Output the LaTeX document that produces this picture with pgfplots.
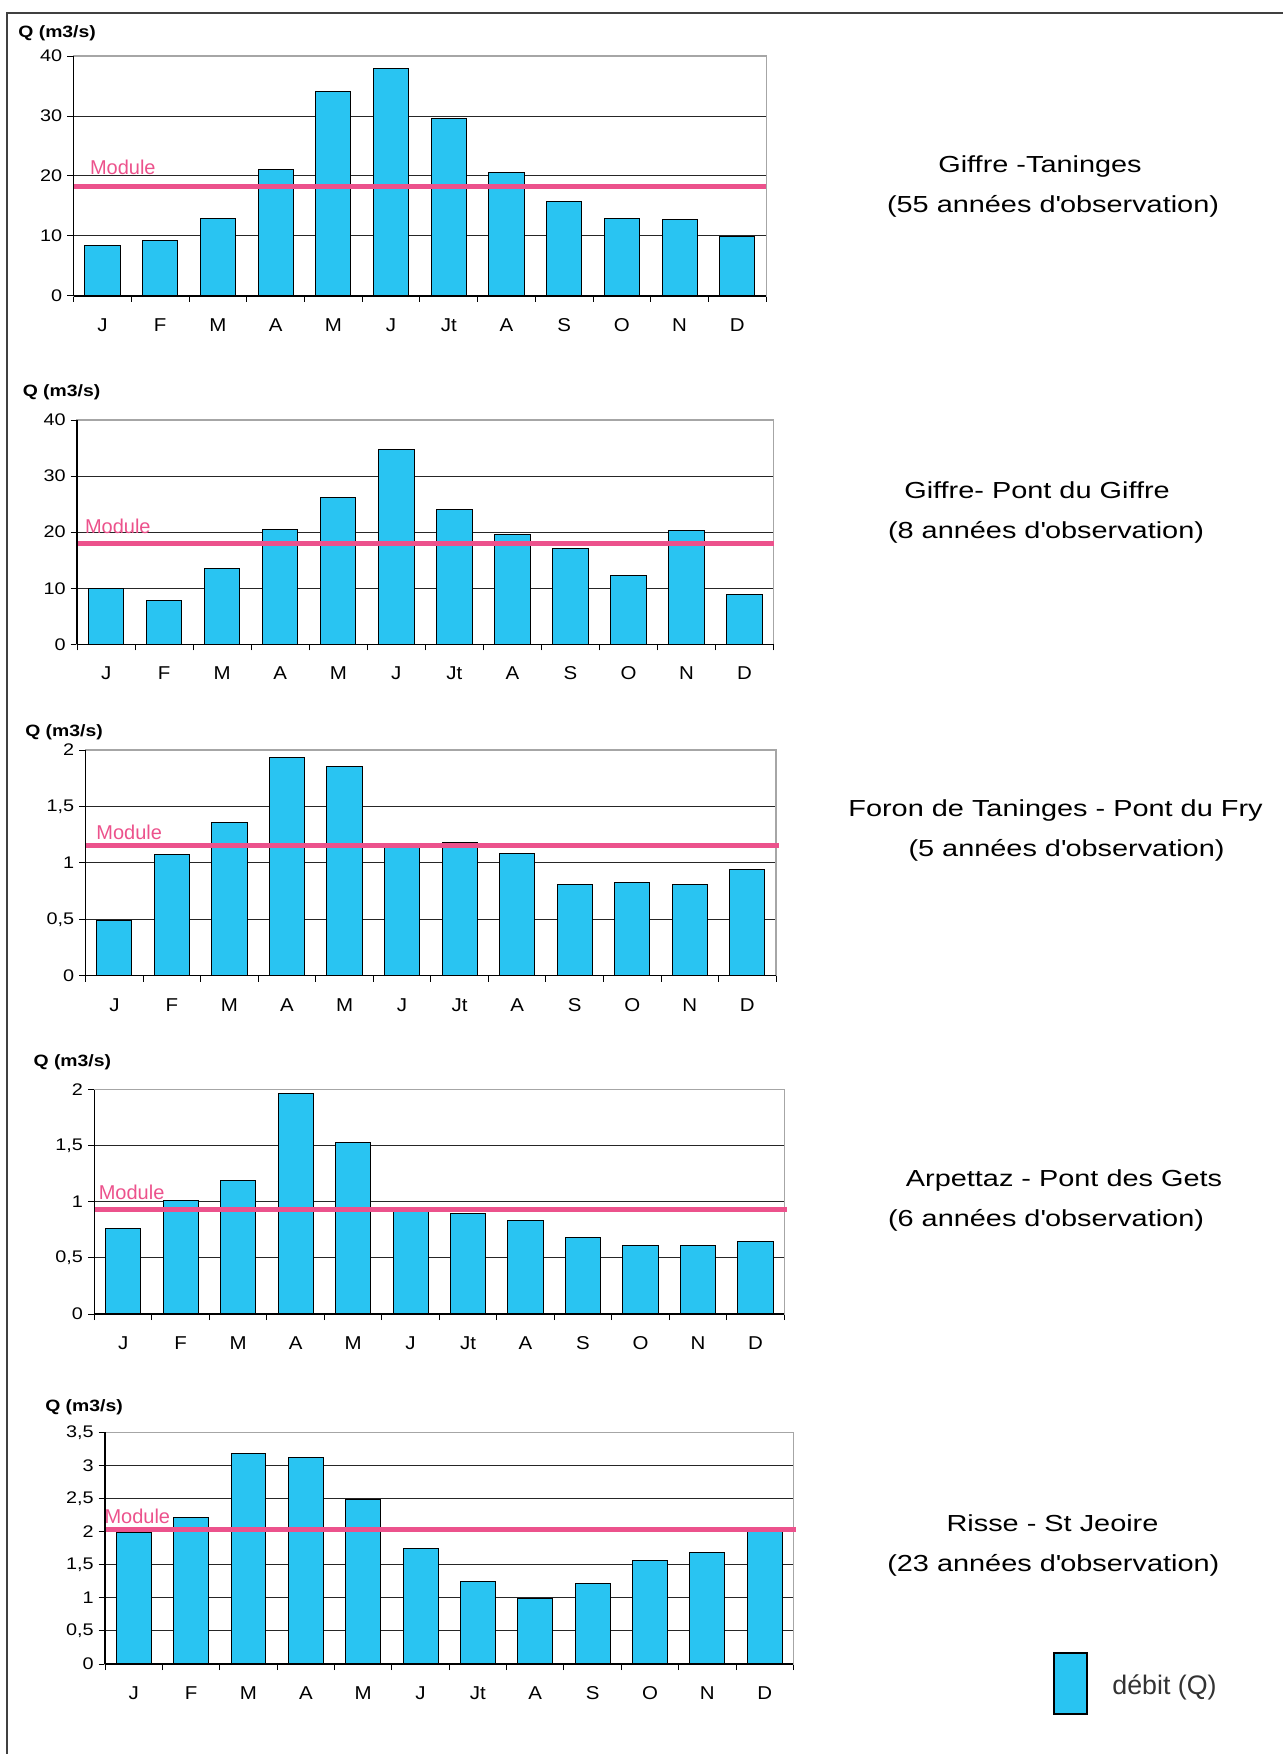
\documentclass[border=0pt]{standalone}
\usepackage{pgfplots}
\pgfplotsset{compat=1.18}
\usepackage{fontspec}
\setmainfont{Liberation Sans}
\newfontfamily\widefont[FakeStretch=1.245]{Liberation Sans}
\newfontfamily\tickfam[FakeStretch=1.18]{Liberation Sans}
\newfontfamily\monthfam[FakeStretch=1.1]{Liberation Sans}
\definecolor{barcyan}{RGB}{41,196,242}
\definecolor{modpink}{RGB}{236,82,140}
\newcommand\tickfont{\tickfam\fontsize{8.4pt}{10pt}\selectfont}
\newcommand\monthfont{\monthfam\fontsize{9.3pt}{11pt}\selectfont}
\newcommand\qfont{\tickfam\fontsize{8.2pt}{10pt}\selectfont\bfseries}
\newcommand\modfont{\fontsize{10pt}{12pt}\selectfont}
\newcommand\sitefont{\widefont\fontsize{11.6pt}{13pt}\selectfont}

\tikzset{modlabel/.style={anchor=base west, inner sep=0pt, font=\modfont, text=modpink}}

\pgfplotsset{
  panel/.style={
    scale only axis, anchor=south west,
    xmin=0.5, xmax=12.5, ymin=0,
    xtick={1,...,12}, xticklabels={J,F,M,A,M,J,Jt,A,S,O,N,D},
    minor xtick={0.5,1.5,...,12.5},
    tick pos=left, tick align=outside,
    major x tick style={draw=none},
    major tick length=3.2pt, minor tick length=3pt,
    tick style={black, line width=0.5pt},
    ymajorgrids, grid style={black!85, line width=0.5pt},
    axis line style={gray!70, line width=0.7pt},
    /pgf/number format/use comma,
    /pgf/number format/assume math mode=true,
    yticklabel style={font=\tickfont, anchor=east, inner sep=0pt, xshift=-2.3pt},
    xticklabel style={font=\monthfont, anchor=center, inner sep=0pt, yshift=-11.3pt},
    clip=false,
  },
  bars/.style={ybar, bar width=0.61, bar shift=0pt, fill=barcyan, draw=black, line width=0.5pt},
  modline/.style={modpink, line width=2.5pt, forget plot},
}

\begin{document}
\begin{tikzpicture}
\useasboundingbox (0,0) rectangle (641.5pt,-877pt);
\draw[black!75, line width=1pt] (3.65pt,-877pt) -- (3.65pt,-6.35pt) -- (641.5pt,-6.35pt);

% Panel 1
\begin{axis}[panel, at={(36.8pt,-148pt)}, width=346.3pt, height=120pt, ymax=40, ytick={0,10,...,40}]
\addplot[bars] coordinates {(1,8.4) (2,9.2) (3,12.9) (4,21.1) (5,34.1) (6,38.0) (7,29.6) (8,20.6) (9,15.7) (10,12.9) (11,12.7) (12,9.9)};
\addplot[modline] coordinates {(0.5,18.3) (12.5,18.3)};
\node[modlabel, xshift=8pt] at (axis cs:0.5,20.17) {Module};
\draw[black, line width=0.7pt] (rel axis cs:0,0) -- (rel axis cs:0,1);
\draw[black, line width=0.7pt] (rel axis cs:0,0) -- (rel axis cs:1,0);
\end{axis}

% Panel 2
\begin{axis}[panel, at={(38.55pt,-322.15pt)}, width=348.25pt, height=112.15pt, ymax=40, ytick={0,10,...,40}]
\addplot[bars] coordinates {(1,9.9) (2,7.8) (3,13.6) (4,20.5) (5,26.2) (6,34.7) (7,24.0) (8,19.5) (9,17.1) (10,12.2) (11,20.3) (12,8.8)};
\addplot[modline] coordinates {(0.5,17.95) (12.5,17.95)};
\node[modlabel, xshift=3.75pt] at (axis cs:0.5,19.8) {Module};
\draw[black, line width=0.7pt] (rel axis cs:0,0) -- (rel axis cs:0,1);
\draw[black, line width=0.7pt] (rel axis cs:0,0) -- (rel axis cs:1,0);
\end{axis}

% Panel 3
\begin{axis}[panel, at={(42.8pt,-487.85pt)}, width=345.25pt, height=112.85pt, ymax=2, ytick={0,0.5,...,2}]
\addplot[bars] coordinates {(1,0.49) (2,1.07) (3,1.36) (4,1.93) (5,1.85) (6,1.17) (7,1.18) (8,1.08) (9,0.81) (10,0.83) (11,0.81) (12,0.94)};
\addplot[modline] coordinates {(0.5,1.155) (12.55,1.155)};
\node[modlabel, xshift=5.2pt] at (axis cs:0.5,1.211) {Module};
\draw[black, line width=0.7pt] (rel axis cs:0,0) -- (rel axis cs:0,1);
\draw[black, line width=0.7pt] (rel axis cs:0,0) -- (rel axis cs:1,0);
\end{axis}

% Panel 4
\begin{axis}[panel, at={(47.2pt,-657pt)}, width=344.9pt, height=112.15pt, ymax=2, ytick={0,0.5,...,2}]
\addplot[bars] coordinates {(1,0.76) (2,1.01) (3,1.19) (4,1.97) (5,1.53) (6,0.92) (7,0.90) (8,0.83) (9,0.68) (10,0.61) (11,0.61) (12,0.65)};
\addplot[modline] coordinates {(0.5,0.93) (12.55,0.93)};
\node[modlabel, xshift=2pt] at (axis cs:0.5,1.025) {Module};
\draw[black, line width=0.7pt] (rel axis cs:0,0) -- (rel axis cs:0,1);
\draw[black, line width=0.7pt] (rel axis cs:0,0) -- (rel axis cs:1,0);
\end{axis}

% Panel 5
\begin{axis}[panel, at={(52.55pt,-832pt)}, width=344.15pt, height=115.85pt, ymax=3.5, ytick={0,0.5,...,3.5}]
\addplot[bars] coordinates {(1,1.98) (2,2.21) (3,3.18) (4,3.12) (5,2.49) (6,1.74) (7,1.24) (8,0.99) (9,1.22) (10,1.56) (11,1.69) (12,2.02)};
\addplot[modline] coordinates {(0.5,2.035) (12.55,2.035)};
\node[modlabel, xshift=-0.5pt] at (axis cs:0.5,2.13) {Module};
\draw[black, line width=0.7pt] (rel axis cs:0,0) -- (rel axis cs:0,1);
\draw[black, line width=0.7pt] (rel axis cs:0,0) -- (rel axis cs:1,0);
\end{axis}

% Y labels
\node[anchor=west, inner sep=0pt, font=\qfont] at (9pt,-16.5pt) {Q (m3/s)};
\node[anchor=west, inner sep=0pt, font=\qfont] at (11.2pt,-196.15pt) {Q (m3/s)};
\node[anchor=west, inner sep=0pt, font=\qfont] at (12.45pt,-366.15pt) {Q (m3/s)};
\node[anchor=west, inner sep=0pt, font=\qfont] at (16.6pt,-531.15pt) {Q (m3/s)};
\node[anchor=west, inner sep=0pt, font=\qfont] at (22.45pt,-703.65pt) {Q (m3/s)};

% Site names
\node[anchor=base, inner sep=0pt, font=\sitefont] at (520pt,-86.35pt) {Giffre -Taninges};
\node[anchor=base, inner sep=0pt, font=\sitefont] at (526.5pt,-106.25pt) {(55 années d\textquotesingle observation)};
\node[anchor=base, inner sep=0pt, font=\sitefont] at (518.5pt,-249pt) {Giffre- Pont du Giffre};
\node[anchor=base, inner sep=0pt, font=\sitefont] at (523pt,-269pt) {(8 années d\textquotesingle observation)};
\node[anchor=base, inner sep=0pt, font=\sitefont] at (527.75pt,-408.35pt) {Foron de Taninges - Pont du Fry};
\node[anchor=base, inner sep=0pt, font=\sitefont] at (533.25pt,-428pt) {(5 années d\textquotesingle observation)};
\node[anchor=base, inner sep=0pt, font=\sitefont] at (532pt,-593pt) {Arpettaz - Pont des Gets};
\node[anchor=base, inner sep=0pt, font=\sitefont] at (523pt,-613pt) {(6 années d\textquotesingle observation)};
\node[anchor=base, inner sep=0pt, font=\sitefont] at (526.25pt,-765.85pt) {Risse - St Jeoire};
\node[anchor=base, inner sep=0pt, font=\sitefont] at (526.65pt,-785.85pt) {(23 années d\textquotesingle observation)};

% Legend
\draw[fill=barcyan, draw=black, line width=0.6pt] (527pt,-826.5pt) rectangle (543.5pt,-857pt);
\node[anchor=base west, inner sep=0pt, font=\fontsize{13.4pt}{15pt}\selectfont, text=black!80] at (556pt,-847.15pt) {débit (Q)};
\end{tikzpicture}
\end{document}
